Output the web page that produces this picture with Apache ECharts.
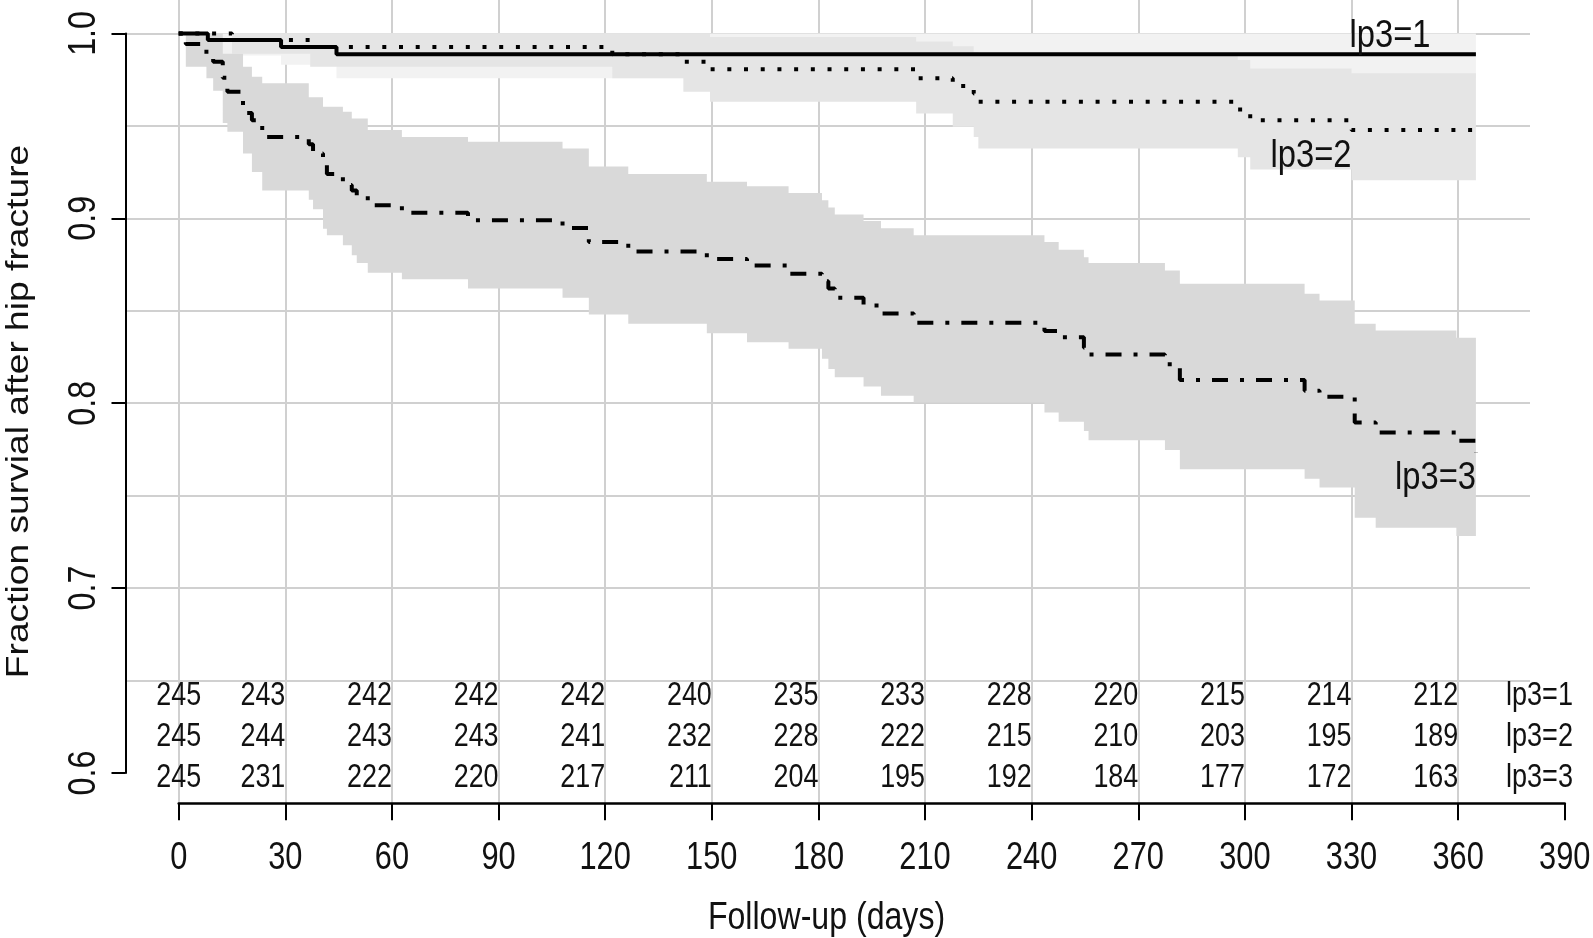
<!DOCTYPE html>
<html><head><meta charset="utf-8">
<script src="https://cdn.jsdelivr.net/npm/echarts@6/dist/echarts.min.js"></script>
<style>html,body{margin:0;padding:0;background:#fff}#c{width:1593px;height:938px}</style>
</head><body><div id="c"></div>
<script>
// ---------------- data ----------------
const groupNames = ['lp3=1', 'lp3=2', 'lp3=3'];
const xTicks = [0, 30, 60, 90, 120, 150, 180, 210, 240, 270, 300, 330, 360, 390];
const yTickValues = [0.6, 0.7, 0.8, 0.9, 1.0];
const yTickLabels = ['0.6', '0.7', '0.8', '0.9', '1.0'];

// numbers at risk
const riskTimes = [0, 30, 60, 90, 120, 150, 180, 210, 240, 270, 300, 330, 360];
const risk1 = [245, 243, 242, 242, 242, 240, 235, 233, 228, 220, 215, 214, 212];
const risk2 = [245, 244, 243, 243, 241, 232, 228, 222, 215, 210, 203, 195, 189];
const risk3 = [245, 231, 222, 220, 217, 211, 204, 195, 192, 184, 177, 172, 163];

// lp3=1 Kaplan-Meier estimate and confidence band
const km1Time  = [0, 8.2, 28.8, 44.4, 365];
const km1Surv  = [1, 0.9964, 0.9927, 0.9887, 0.9887];
const km1Upper = [1, 1, 1, 1, 1];
const km1Lower = [1, 0.988, 0.983, 0.9757, 0.9757];

// lp3=2
const km2Time  = [0, 15, 37, 122, 142, 149.5, 207.5, 217.8, 223.7, 225, 298, 301.5, 330, 365];
const km2Surv  = [1, 0.9964, 0.9927, 0.9887, 0.9847, 0.9806, 0.9757, 0.9716, 0.9675, 0.963, 0.9588, 0.953, 0.9477, 0.9477];
const km2Upper = [1, 1, 1, 1, 1, 0.998, 0.9956, 0.993, 0.990, 0.989, 0.9856, 0.981, 0.9784, 0.9784];
const km2Lower = [1, 0.989, 0.982, 0.9757, 0.9685, 0.963, 0.9567, 0.9495, 0.944, 0.9378, 0.933, 0.9264, 0.9206, 0.9206];

// lp3=3
const km3Time  = [0, 2, 7.8, 9.7, 12.4, 13.7, 18.1, 20.6, 23.5, 36.6, 37.8, 40.6, 41.7, 46.2, 48.7, 50.1, 53.2, 62.8, 81.4, 108, 115.4, 126.5, 148.6, 159.9, 171.6, 181, 182.8, 184.6, 192.7, 197.6, 206.8, 243.6, 247.6, 254.7, 256, 277.5, 281.7, 316.8, 321, 330.9, 336.8, 359.5, 365];
const km3Surv  = [1, 0.9943, 0.9875, 0.9847, 0.976, 0.9685, 0.957, 0.953, 0.944, 0.940, 0.935, 0.929, 0.924, 0.918, 0.915, 0.912, 0.907, 0.903, 0.899, 0.8947, 0.8872, 0.882, 0.878, 0.8745, 0.870, 0.866, 0.862, 0.857, 0.8528, 0.8485, 0.8435, 0.839, 0.8357, 0.830, 0.8263, 0.821, 0.8125, 0.8068, 0.8035, 0.7896, 0.7842, 0.7797, 0.7733];
const km3Upper = [1, 1, 1, 1, 0.989, 0.989, 0.982, 0.9766, 0.973, 0.9655, 0.9655, 0.9603, 0.9603, 0.9576, 0.954, 0.954, 0.9477, 0.944, 0.9414, 0.9378, 0.928, 0.924, 0.9197, 0.9173, 0.9137, 0.9098, 0.9058, 0.902, 0.8985, 0.8946, 0.8908, 0.8872, 0.883, 0.879, 0.8758, 0.8718, 0.8646, 0.8592, 0.8556, 0.843, 0.8393, 0.8354, 0.8354];
const km3Lower = [1, 0.982, 0.9757, 0.969, 0.9515, 0.9468, 0.935, 0.925, 0.915, 0.910, 0.9049, 0.8944, 0.8908, 0.8854, 0.880, 0.8758, 0.8706, 0.867, 0.862, 0.857, 0.848, 0.843, 0.8378, 0.833, 0.8294, 0.824, 0.8185, 0.814, 0.809, 0.804, 0.8004, 0.795, 0.790, 0.785, 0.780, 0.7747, 0.7643, 0.7592, 0.7544, 0.738, 0.7327, 0.7282, 0.7282];

// ---------------- layout (pixels) ----------------
const W = 1593, H = 938;
const X0 = 178.7, PPD = 3.554;     // pixel of day 0, pixels per day
const Y1 = 33.4, PPU = 1849;       // pixel of S=1.0, pixels per unit of S
const AXIS_Y = 803.3;              // x-axis line
const YAXIS_X = 125.5, GRID_RIGHT_X = 1530;
const riskRowY = [696, 737, 778];
const riskRowLabelX = 1506;
const curveLabelPx = [[1390, 36.5], [1311, 156], [1435.5, 478]];
const xLabelY = 859, yLabelX = 84.3;
const px2day = x => (x - X0) / PPD;
const px2val = y => 1 - (y - Y1) / PPU;

const FONT = '"Liberation Sans", Arial, Helvetica, sans-serif';
const TXT = '#111';
const GRIDC = '#d0d0d0';

function bandSeries(times, lo, hi, color) {
  return {
    type: 'custom', xAxisIndex: 1, yAxisIndex: 2, silent: true, z: 1,
    data: times.map((t, i) => [t, lo[i], hi[i]]),
    renderItem: (params, api) => {
      if (params.dataIndex !== 0) return null;
      const n = times.length, pts = [];
      for (let i = 0; i < n; i++) {
        pts.push(api.coord([times[i], hi[i]]));
        if (i < n - 1) pts.push(api.coord([times[i + 1], hi[i]]));
      }
      for (let i = n - 1; i >= 0; i--) {
        if (i < n - 1) pts.push(api.coord([times[i + 1], lo[i]]));
        pts.push(api.coord([times[i], lo[i]]));
      }
      return { type: 'polygon', shape: { points: pts }, style: { fill: color, stroke: null } };
    }
  };
}
function kmLine(times, surv, dash) {
  return {
    type: 'line', xAxisIndex: 1, yAxisIndex: 2, step: 'end', symbol: 'none', silent: true, z: 5,
    data: times.map((t, i) => [t, surv[i]]),
    lineStyle: { color: '#000', width: 4, type: dash, cap: 'butt' }
  };
}

const vGridColors = xTicks.map(() => GRIDC);
vGridColors.unshift('rgba(0,0,0,0)');                  // day -30
vGridColors[vGridColors.length - 1] = 'rgba(0,0,0,0)'; // day 390
const hGridColors = ['rgba(0,0,0,0)', GRIDC, GRIDC, GRIDC, GRIDC, GRIDC, GRIDC, GRIDC, GRIDC];

const chart = echarts.init(document.getElementById('c'), null, { renderer: 'canvas' });
chart.setOption({
  backgroundColor: '#fff',
  animation: false,
  grid: [
    { left: YAXIS_X, right: W - GRID_RIGHT_X, top: Y1, bottom: H - (Y1 + 0.4 * PPU), containLabel: false, outerBoundsMode: 'none' },
    { left: X0 - 30 * PPD, right: W - (X0 + 390 * PPD), top: 0, bottom: H - AXIS_Y, containLabel: false, outerBoundsMode: 'none' },
    { left: X0, right: W - (X0 + 390 * PPD), top: AXIS_Y - 10, bottom: H - AXIS_Y, containLabel: false, outerBoundsMode: 'none' }
  ],
  xAxis: [
    { gridIndex: 0, type: 'value', min: 0, max: 1, show: false },
    { gridIndex: 1, type: 'value', min: -30, max: 390, interval: 30,
      axisLine: { show: false }, axisTick: { show: false }, axisLabel: { show: false },
      splitLine: { show: true, lineStyle: { color: vGridColors, width: 2 } } },
    { gridIndex: 2, type: 'value', min: 0, max: 390, interval: 30, position: 'bottom',
      axisLine: { show: true, onZero: false, lineStyle: { color: '#000', width: 2.5 } },
      axisTick: { show: true, length: 17, lineStyle: { color: '#000', width: 2 } },
      axisLabel: { show: false }, splitLine: { show: false } }
  ],
  yAxis: [
    { gridIndex: 0, type: 'value', min: 0.6, max: 1.0, interval: 0.05, position: 'left',
      axisLine: { show: false }, axisTick: { show: false }, axisLabel: { show: false },
      splitLine: { show: true, lineStyle: { color: hGridColors, width: 2 } } },
    { gridIndex: 0, type: 'value', min: 0.6, max: 1.0, interval: 0.1, position: 'left',
      axisLine: { show: true, onZero: false, lineStyle: { color: '#000', width: 2 } },
      axisTick: { show: true, length: 14, lineStyle: { color: '#000', width: 2 } },
      axisLabel: { show: false }, splitLine: { show: false } },
    { gridIndex: 1, type: 'value', min: px2val(AXIS_Y), max: px2val(0), show: false },
    { gridIndex: 2, type: 'value', min: 0, max: 1, show: false }
  ],
  series: [
    bandSeries(km1Time, km1Lower, km1Upper, '#f2f2f2'),
    bandSeries(km2Time, km2Lower, km2Upper, '#e5e5e5'),
    bandSeries(km3Time, km3Lower, km3Upper, '#d9d9d9'),
    kmLine(km1Time, km1Surv, 'solid'),
    kmLine(km2Time, km2Surv, [4, 12.7]),
    kmLine(km3Time, km3Surv, [4, 12, 16, 12])
  ]
});

// ---------- text (real text, placed through the chart's own scales) ----------
function txt(x, y, text, size, align, sx, rot) {
  return {
    type: 'text', x: x, y: y, rotation: rot || 0, scaleX: sx, scaleY: 1, silent: true, z: 100,
    style: { text: String(text), font: size + 'px ' + FONT, fill: TXT,
      align: align, verticalAlign: 'middle', textAlign: align, textVerticalAlign: 'middle' }
  };
}
const g = [];
const dataPx = (t, v) => chart.convertToPixel({ xAxisIndex: 1, yAxisIndex: 2 }, [t, v]);
// x tick labels
xTicks.forEach(v => {
  const p = chart.convertToPixel({ xAxisIndex: 2, yAxisIndex: 3 }, [v, 0]);
  g.push(txt(p[0], xLabelY, v, 38, 'center', 0.81));
});
// y tick labels (rotated, parallel to the axis)
yTickValues.forEach((v, i) => {
  const p = chart.convertToPixel({ xAxisIndex: 0, yAxisIndex: 1 }, [0, v]);
  const yc = Math.max(p[1], 22.4);
  g.push(txt(yLabelX, yc, yTickLabels[i], 38, 'center', 0.85, Math.PI / 2));
});
// numbers at risk
[risk1, risk2, risk3].forEach((row, r) => {
  row.forEach((n, i) => {
    const p = dataPx(riskTimes[i], px2val(riskRowY[r]));
    g.push(txt(p[0], p[1], n, 33, riskTimes[i] === 0 ? 'center' : 'right', 0.815));
  });
  const q = dataPx(px2day(riskRowLabelX), px2val(riskRowY[r]));
  g.push(txt(q[0], q[1], groupNames[r], 33, 'left', 0.82));
});
// curve labels
groupNames.forEach((name, i) => {
  const p = dataPx(px2day(curveLabelPx[i][0]), px2val(curveLabelPx[i][1]));
  g.push(txt(p[0], p[1], name, 39, 'center', 0.84));
});
// axis titles
g.push(txt(19.5, 411.5, 'Fraction survial after hip fracture', 31, 'center', 1.2, Math.PI / 2));
g.push(txt(826.5, 918, 'Follow-up (days)', 39, 'center', 0.823));
chart.setOption({ graphic: g });
</script>
</body></html>
